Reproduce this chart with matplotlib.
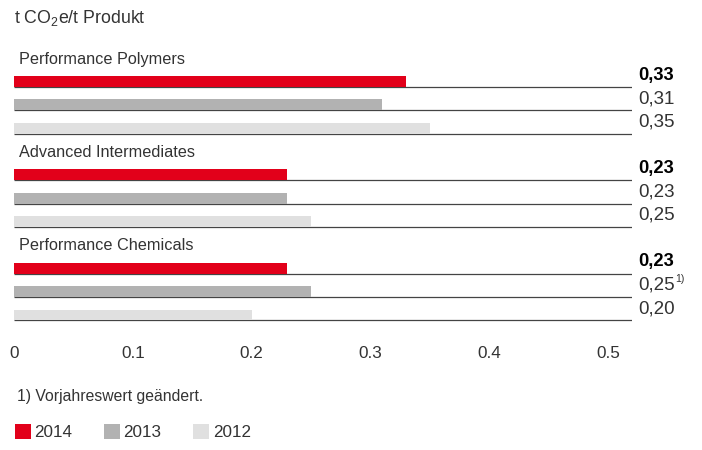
import matplotlib.pyplot as plt
from matplotlib.patches import Patch

plt.rcParams["font.family"] = ["Liberation Sans", "DejaVu Sans"]
plt.rcParams["mathtext.fontset"] = "custom"
plt.rcParams["mathtext.rm"] = "Liberation Sans"
plt.rcParams["mathtext.default"] = "rm"

segments = ["Performance Polymers", "Advanced Intermediates", "Performance Chemicals"]
years = ["2014", "2013", "2012"]
v2014 = [0.33, 0.23, 0.23]
v2013 = [0.31, 0.23, 0.25]
v2012 = [0.35, 0.25, 0.20]
labels2014 = ["0,33", "0,23", "0,23"]
labels2013 = ["0,31", "0,23", "0,25"]
labels2012 = ["0,35", "0,25", "0,20"]
notes2013 = ["", "", "1)"]
xticks = [0, 0.1, 0.2, 0.3, 0.4, 0.5]
xticklabels = ["0", "0.1", "0.2", "0.3", "0.4", "0.5"]

colors = ["#e2001a", "#b2b2b2", "#e0e0e0"]
txt = "#333333"

W, H = 702, 450
fig = plt.figure(figsize=(W / 100, H / 100), dpi=100)
# axes in pixel terms: x from 14 to 632, y rows of 23.35 px
left, right = 14, 632
top, bottom = 81.5 - 1.5 * 23.35, 81.5 + 10.5 * 23.35
ax = fig.add_axes([left / W, 1 - bottom / H, (right - left) / W, (bottom - top) / H])
ax.set_xlim(0, (right - left) / 1188)
ax.set_ylim(10.5, -1.5)

bh = 0.47
series = [v2014, v2013, v2012]
series_labels = [labels2014, labels2013, labels2012]
for g, seg in enumerate(segments):
    base = g * 4
    ax.text(0.004, base - 0.96, seg, fontsize=11.7, color=txt, va="center", ha="left")
    for k in range(3):
        y = base + k
        ax.barh(y, series[k][g], height=bh, color=colors[k], zorder=2)
        ax.hlines(y + bh / 2, 0, ax.get_xlim()[1], color="#444444", lw=0.9, zorder=1)
        t = ax.text(ax.get_xlim()[1] + 0.005, y - 0.27, series_labels[k][g],
                    fontsize=13.2 if k == 0 else 13.5, color="black" if k == 0 else txt,
                    fontweight="bold" if k == 0 else "normal",
                    va="center", ha="left", clip_on=False)
        if k == 1 and notes2013[g]:
            ax.annotate(notes2013[g], xy=(1, 0.85), xycoords=t, fontsize=7.5,
                        color=txt, va="center", ha="left",
                        xytext=(0.3, 0), textcoords="offset points")

ax.set_xticks(xticks)
ax.set_xticklabels(xticklabels, fontsize=12.3, color=txt)
ax.tick_params(axis="x", length=0, pad=14)
ax.set_yticks([])
for s in ax.spines.values():
    s.set_visible(False)

fig.text(14 / W, 1 - 18 / H, "t CO$_2$e/t Produkt", fontsize=12.8, color=txt, va="center", ha="left")
fig.text(17 / W, 1 - 397 / H, "1) Vorjahreswert geändert.", fontsize=11.3, color=txt, va="center", ha="left")

handles = [Patch(facecolor=c, edgecolor="none") for c in colors]
fig.legend(handles, years, loc="center left", bbox_to_anchor=(6 / W, 1 - 432 / H),
           ncol=3, frameon=False, fontsize=12.3, handlelength=0.95, handleheight=0.95,
           handletextpad=0.2, columnspacing=1.85, borderpad=0, labelcolor=txt)

fig.savefig("out.png", dpi=100)
